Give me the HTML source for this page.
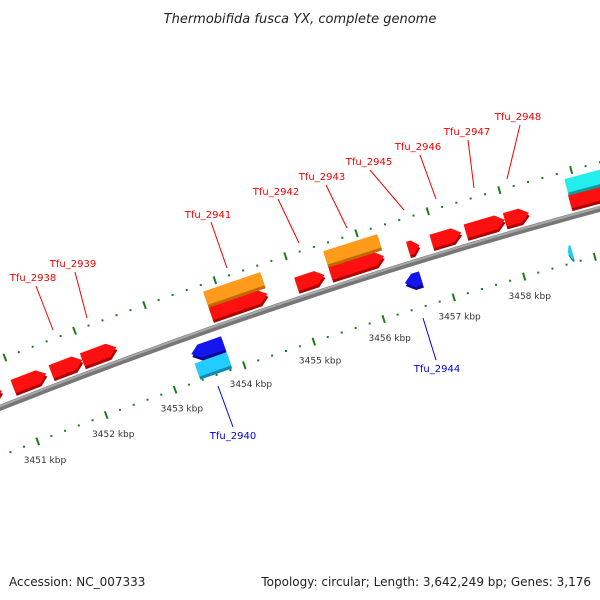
<!DOCTYPE html>
<html><head><meta charset="utf-8"><style>
html,body{margin:0;padding:0;background:#fff;}
svg{display:block;font-family:"DejaVu Sans","Liberation Sans",sans-serif;}
</style></head><body>
<svg id="chart" width="600" height="600" viewBox="0 0 600 600">
<text x="300" y="23" text-anchor="middle" font-size="13" font-style="italic" fill="#222">Thermobifida fusca YX, complete genome</text>
<g id="rings"></g>
<g id="backbone"></g>
<g id="genes"></g>
<g id="labels"></g>
<text x="9" y="586" font-size="12" fill="#222">Accession: NC_007333</text>
<text x="591" y="586" font-size="12" fill="#222" text-anchor="end">Topology: circular; Length: 3,642,249 bp; Genes: 3,176</text>
</svg>
<script>
// data
const geneStart = [3450.3, 3450.96, 3451.51, 3451.96, 3453.80, 3453.80, 3455.02, 3455.50, 3455.50, 3456.60, 3456.93, 3457.41, 3457.96, 3458.87, 3458.88, 3453.37, 3453.37, 3456.42, 3458.66];
const geneEnd   = [3450.8, 3451.44, 3451.96, 3452.45, 3454.61, 3454.61, 3455.42, 3456.26, 3456.26, 3456.76, 3457.35, 3457.96, 3458.30, 3459.8, 3459.8, 3453.83, 3453.83, 3456.65, 3458.72];
const geneStrand = [1,1,1,1,1,1,1,1,1,1,1,1,1,1,1,-1,-1,-1,-1];
const geneKind = ["cds","cds","cds","cds","cds","gene","cds","cds","gene","cds","cds","cds","cds","cds","other","cds","other","cds","other"];
const tickLabels = [3451,3452,3453,3454,3455,3456,3457,3458];
const labelNames = ["Tfu_2938","Tfu_2939","Tfu_2941","Tfu_2942","Tfu_2943","Tfu_2945","Tfu_2946","Tfu_2947","Tfu_2948","Tfu_2940","Tfu_2944"];
const labelTextX = [33,73,208,276,322,369,418,467,518,233,437];
const labelTextY = [281,267,218,195,180,165,150,135,120,439,372];
const labelLine = [[36,286,53,330],[75,272,87,318],[211,222,227,268],[278,199,299,243],[326,185,347,228],[370,170,404,210],[420,155,436,199],[468,140,474,188],[520,125,507,179],[218,386,233,427],[423,318,436,360]];
const labelStrand = [1,1,1,1,1,1,1,1,1,-1,-1];

const NS="http://www.w3.org/2000/svg";
const CX=2042, CY=5561, R=5543;
function ang(k){return -0.3331 + (k-3454)*0.01335;}
function pt(k,r){const a=ang(k);return [CX+r*Math.sin(a), CY-r*Math.cos(a)];}
function mk(tag,attrs,parent){const e=document.createElementNS(NS,tag);for(const k in attrs)e.setAttribute(k,attrs[k]);parent.appendChild(e);return e;}
function arcPath(k0,k1,r,n){let d="";for(let i=0;i<=n;i++){const p=pt(k0+(k1-k0)*i/n,r);d+=(i?"L":"M")+p[0].toFixed(1)+","+p[1].toFixed(1);}return d;}

// rings
const rings=document.getElementById('rings');
[R+45,R-45].forEach((r,ri)=>{
  for(let i=0;i<=60;i++){
    const k=3449+i*0.2;
    const major=Math.abs(k-Math.round(k))<1e-6;
    if(major){
      const a=pt(k,r-4),b=pt(k,r+4);
      const l=mk('line',{x1:a[0],y1:a[1],x2:b[0],y2:b[1],stroke:'#1a7d1a','stroke-width':2},rings);
      
      
    }else{
      const a=pt(k,r);
      const c=mk('rect',{x:a[0]-1,y:a[1]-1,width:2,height:2,fill:'#1a7d1a'},rings);
      
      
    }
  }
});
tickLabels.forEach(k=>{
  const p=pt(k,R-65);
  const t=mk('text',{x:p[0],y:p[1]+3,'text-anchor':'middle','font-size':9,fill:'#333'},rings);
  t.textContent=k+" kbp";
  
  
});

// backbone
const bb=document.getElementById('backbone');
const b1=mk('path',{d:arcPath(3449,3461,R,40),stroke:'#777','stroke-width':6,fill:'none'},bb);


mk('path',{d:arcPath(3449,3461,R+1.5,40),stroke:'#a8a8a8','stroke-width':2,fill:'none'},bb);

// genes
const genes=document.getElementById('genes');
function color(kind,strand){
  if(kind==='gene')return ['#ff9a1a','#c06a00'];
  if(kind==='other')return strand>0?['#22eeee','#109a9a']:['#22ccff','#1088b0'];
  return strand>0?['#ff1010','#b00000']:['#1515ee','#0a0a90'];
}
for(let i=0;i<geneStart.length;i++){
  const s=geneStart[i],e=geneEnd[i],st=geneStrand[i],kind=geneKind[i];
  let rc;
  if(st>0) rc = kind==='cds'?R+15:R+31;
  else rc = kind==='cds'?R-17:R-34;
  const h=7, a=Math.min(0.12,(e-s)*0.6);
  let pts;
  if(st>0) pts=[[s,rc+h],[e-a,rc+h],[e,rc],[e-a,rc-h],[s,rc-h]];
  else pts=[[e,rc+h],[s+a,rc+h],[s,rc],[s+a,rc-h],[e,rc-h]];
  if(kind==='gene'||(kind==='other'&&(e-s)>0.2)) pts=[[s,rc+h],[e,rc+h],[e,rc-h],[s,rc-h]];
  const [c1,c2]=color(kind,st);
  const dark=pts.map(q=>pt(q[0],q[1]-3));
  mk('polygon',{points:dark.map(p=>p.join(',')).join(' '),fill:c2},genes);
  const g=mk('polygon',{points:pts.map(q=>pt(q[0],q[1]).join(',')).join(' '),fill:c1},genes);
  
  
}

// labels
const labels=document.getElementById('labels');
labelNames.forEach((n,i)=>{
  const col=labelStrand[i]>0?'#ee0000':'#0000dd';
  const L=labelLine[i];
  const ln=mk('line',{x1:L[0],y1:L[1],x2:L[2],y2:L[3],stroke:col,'stroke-width':1},labels);
  
  
  const t=mk('text',{x:labelTextX[i],y:labelTextY[i],'text-anchor':'middle','font-size':10,fill:col},labels);
  t.textContent=n;
  
  
});
</script>
</body></html>
